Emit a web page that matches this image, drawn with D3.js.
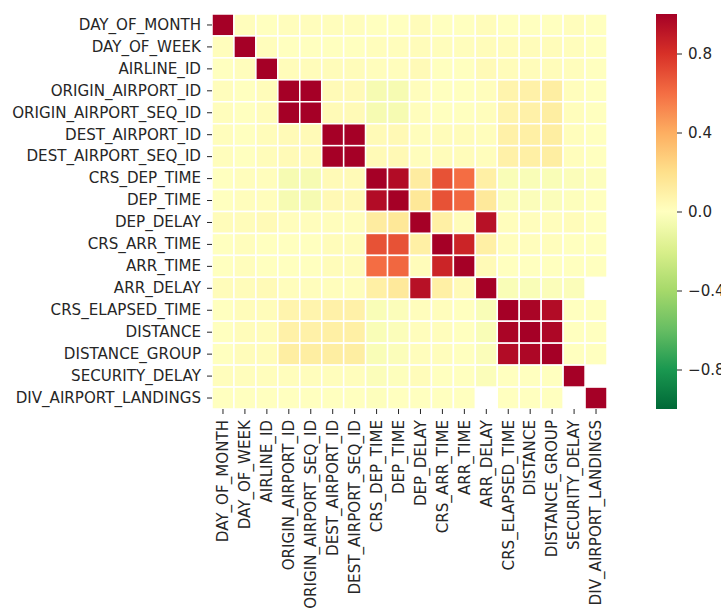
<!DOCTYPE html>
<html>
<head>
<meta charset="utf-8">
<script src="https://cdn.jsdelivr.net/npm/d3@7"></script>
<style>
  body { margin: 0; background: #fff; }
  text { font-family: "DejaVu Sans", sans-serif; fill: #262626; }
</style>
</head>
<body>
<svg id="chart"></svg>
<script>
let width = 721;
let height = 608;

let labels = ["DAY_OF_MONTH", "DAY_OF_WEEK", "AIRLINE_ID", "ORIGIN_AIRPORT_ID",
  "ORIGIN_AIRPORT_SEQ_ID", "DEST_AIRPORT_ID", "DEST_AIRPORT_SEQ_ID", "CRS_DEP_TIME",
  "DEP_TIME", "DEP_DELAY", "CRS_ARR_TIME", "ARR_TIME", "ARR_DELAY", "CRS_ELAPSED_TIME",
  "DISTANCE", "DISTANCE_GROUP", "SECURITY_DELAY", "DIV_AIRPORT_LANDINGS"];

// correlation matrix, null = no value (blank cell)
let corr = [
  [1, 0.01, 0.00, 0.01, 0.01, 0.01, 0.01, 0.00, 0.00, 0.02, 0.00, 0.00, 0.02, 0.00, 0.00, 0.00, 0.01, 0.00],
  [0.01, 1, 0.01, 0.00, 0.00, 0.00, 0.00, 0.01, 0.01, 0.02, 0.01, 0.01, 0.02, 0.02, 0.02, 0.02, 0.01, 0.00],
  [0.00, 0.01, 1, 0.02, 0.02, 0.02, 0.02, 0.01, 0.01, 0.03, 0.00, 0.00, 0.03, 0.02, 0.02, 0.02, 0.01, 0.00],
  [0.01, 0.00, 0.02, 1, 1, 0.03, 0.03, -0.05, -0.05, 0.01, 0.00, 0.00, 0.01, 0.07, 0.09, 0.11, 0.01, 0.00],
  [0.01, 0.00, 0.02, 1, 1, 0.03, 0.03, -0.05, -0.05, 0.01, 0.00, 0.00, 0.01, 0.07, 0.09, 0.11, 0.01, 0.00],
  [0.01, 0.00, 0.02, 0.03, 0.03, 1, 1, 0.03, 0.04, 0.01, 0.02, 0.02, 0.01, 0.09, 0.10, 0.11, 0.01, 0.00],
  [0.01, 0.00, 0.02, 0.03, 0.03, 1, 1, 0.03, 0.04, 0.01, 0.02, 0.02, 0.01, 0.09, 0.10, 0.11, 0.01, 0.00],
  [0.00, 0.01, 0.01, -0.05, -0.05, 0.03, 0.03, 1, 0.95, 0.12, 0.69, 0.60, 0.10, -0.03, -0.03, -0.03, -0.02, -0.01],
  [0.00, 0.01, 0.01, -0.05, -0.05, 0.04, 0.04, 0.95, 1, 0.15, 0.69, 0.62, 0.14, -0.02, -0.02, -0.02, -0.01, 0.00],
  [0.02, 0.02, 0.03, 0.01, 0.01, 0.01, 0.01, 0.12, 0.15, 1, 0.10, 0.02, 0.93, 0.01, 0.01, 0.01, 0.02, 0.00],
  [0.00, 0.01, 0.00, 0.00, 0.00, 0.02, 0.02, 0.69, 0.69, 0.10, 1, 0.85, 0.10, 0.01, 0.01, 0.01, 0.00, 0.00],
  [0.00, 0.01, 0.00, 0.00, 0.00, 0.02, 0.02, 0.60, 0.62, 0.02, 0.85, 1, 0.03, 0.00, 0.00, 0.00, 0.00, 0.00],
  [0.02, 0.02, 0.03, 0.01, 0.01, 0.01, 0.01, 0.10, 0.14, 0.93, 0.10, 0.03, 1, -0.03, -0.03, -0.02, -0.02, null],
  [0.00, 0.02, 0.02, 0.07, 0.07, 0.09, 0.09, -0.03, -0.02, 0.01, 0.01, 0.00, -0.03, 1, 0.98, 0.95, 0.00, 0.00],
  [0.00, 0.02, 0.02, 0.09, 0.09, 0.10, 0.10, -0.03, -0.02, 0.01, 0.01, 0.00, -0.03, 0.98, 1, 0.97, 0.00, 0.00],
  [0.00, 0.02, 0.02, 0.11, 0.11, 0.11, 0.11, -0.03, -0.02, 0.01, 0.01, 0.00, -0.02, 0.95, 0.97, 1, 0.00, 0.00],
  [0.01, 0.01, 0.01, 0.01, 0.01, 0.01, 0.01, -0.02, -0.01, 0.02, 0.00, 0.00, -0.02, 0.00, 0.00, 0.00, 1, null],
  [0.00, 0.00, 0.00, 0.00, 0.00, 0.00, 0.00, -0.01, 0.00, 0.00, 0.00, 0.00, null, 0.00, 0.00, 0.00, null, 1]
];

let colorTicks = [-0.8, -0.4, 0.0, 0.4, 0.8];

let svg = d3.select("#chart").attr("width", width).attr("height", height);

let gridLeft = 212, gridTop = 14, gridSize = 395;

let xScale = d3.scaleBand().domain(labels).range([gridLeft, gridLeft + gridSize]);
let yScale = d3.scaleBand().domain(labels).range([gridTop, gridTop + gridSize]);

// matplotlib RdYlGn_r: 11 colours spaced evenly from -1 to 1
let scheme = d3.schemeRdYlGn[11].slice().reverse();
let color = d3.scaleLinear()
  .domain(d3.range(11).map(i => -1 + i * 0.2))
  .range(scheme)
  .clamp(true);

let cells = [];
corr.forEach((row, i) => row.forEach((v, j) => {
  if (v !== null) cells.push({ r: labels[i], c: labels[j], v: v });
}));

svg.append("g")
  .selectAll("rect")
  .data(cells)
  .join("rect")
  .attr("x", d => xScale(d.c))
  .attr("y", d => yScale(d.r))
  .attr("width", xScale.bandwidth())
  .attr("height", yScale.bandwidth())
  .attr("fill", d => color(d.v))
  .attr("stroke", "#fff")
  .attr("stroke-width", 1.5);

let fontSize = 15.1;
let tickLen = 5;

let yAxis = d3.axisLeft(yScale).tickSize(tickLen).tickPadding(6);
let gy = svg.append("g")
  .attr("transform", "translate(" + gridLeft + ",0)")
  .call(yAxis);
gy.select(".domain").remove();
gy.selectAll("text").style("font-size", fontSize + "px").attr("fill", "#262626");
gy.selectAll("line").attr("stroke", "#262626");

let xAxis = d3.axisBottom(xScale).tickSize(tickLen).tickPadding(6);
let gx = svg.append("g")
  .attr("transform", "translate(0," + (gridTop + gridSize) + ")")
  .call(xAxis);
gx.select(".domain").remove();
gx.selectAll("line").attr("stroke", "#262626");
gx.selectAll("text")
  .style("font-size", fontSize + "px")
  .attr("fill", "#262626")
  .attr("text-anchor", "end")
  .attr("transform", "rotate(-90)")
  .attr("x", -(tickLen + 6))
  .attr("y", 0)
  .attr("dy", "0.35em");

// colorbar
let cbX = 656, cbW = 21;
let cbScale = d3.scaleLinear().domain([-1, 1]).range([gridTop + gridSize, gridTop]);

let grad = svg.append("defs").append("linearGradient")
  .attr("id", "cbgrad")
  .attr("x1", 0).attr("y1", 1).attr("x2", 0).attr("y2", 0);
grad.selectAll("stop")
  .data(d3.range(0, 1.0001, 0.02))
  .join("stop")
  .attr("offset", d => d)
  .attr("stop-color", d => color(-1 + 2 * d));

svg.append("rect")
  .attr("x", cbX)
  .attr("y", gridTop)
  .attr("width", cbW)
  .attr("height", gridSize)
  .attr("fill", "url(#cbgrad)");

let cbAxis = d3.axisRight(cbScale)
  .tickValues(colorTicks)
  .tickFormat(d => d3.format(".1f")(d).replace("-", "\u2212"))
  .tickSize(tickLen)
  .tickPadding(6);
let gc = svg.append("g")
  .attr("transform", "translate(" + (cbX + cbW) + ",0)")
  .call(cbAxis);
gc.select(".domain").remove();
gc.selectAll("line").attr("stroke", "#262626");
gc.selectAll("text").style("font-size", fontSize + "px").attr("fill", "#262626");
</script>
</body>
</html>
